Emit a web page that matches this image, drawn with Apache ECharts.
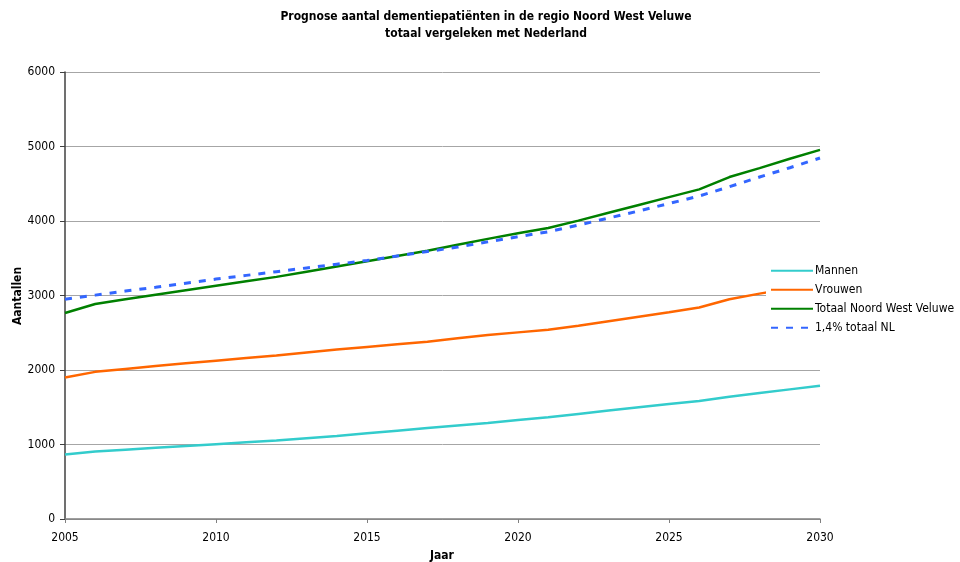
<!DOCTYPE html>
<html>
<head>
<meta charset="utf-8">
<script src="https://cdn.jsdelivr.net/npm/echarts@6/dist/echarts.min.js"></script>
<style>html,body{margin:0;padding:0;background:#fff}#c{width:960px;height:562px}</style>
</head>
<body>
<div id="c"></div>
<script>
const years = [2005,2006,2007,2008,2009,2010,2011,2012,2013,2014,2015,2016,2017,2018,2019,2020,2021,2022,2023,2024,2025,2026,2027,2028,2029,2030];
const mannen = [865,905,930,955,980,1005,1030,1055,1085,1115,1150,1185,1220,1255,1290,1330,1365,1410,1455,1500,1545,1585,1640,1690,1740,1790];
const vrouwen = [1900,1975,2015,2055,2090,2125,2160,2195,2235,2275,2310,2345,2380,2425,2470,2505,2540,2595,2655,2715,2775,2840,2950,3025,3095,3165];
const totaal = [2765,2885,2950,3010,3070,3130,3190,3250,3320,3390,3460,3530,3600,3680,3760,3835,3905,4005,4110,4215,4320,4425,4590,4710,4835,4955];
const nl = [2950,3005,3060,3110,3165,3220,3270,3320,3370,3420,3470,3530,3590,3650,3720,3790,3855,3945,4040,4135,4235,4335,4460,4590,4715,4845];
const seriesNames = ['Mannen','Vrouwen','Totaal Noord West Veluwe','1,4% totaal NL'];
const yTicks = [0,1000,2000,3000,4000,5000,6000];
const xName = 'Jaar';
const yName = 'Aantallen';

const FONT = "'DejaVu Sans Condensed', 'DejaVu Sans', sans-serif";
const pair = arr => years.map((y,i)=>[y,arr[i]]);

const chart = echarts.init(document.getElementById('c'));
chart.setOption({
  animation:false,
  backgroundColor:'#fff',
  textStyle:{fontFamily:FONT,color:'#000'},
  title:{
    text:'Prognose aantal dementiepatiënten in de regio Noord West Veluwe\ntotaal vergeleken met Nederland',
    left:481, top:3, textAlign:'center',
    textStyle:{fontFamily:FONT,fontSize:12,fontWeight:'bold',color:'#000',lineHeight:17}
  },
  graphic:[
    {type:'text',left:430,top:550,style:{text:xName,font:"bold 12px "+FONT,fill:'#000'}},
    {type:'text',x:18,y:296,rotation:Math.PI/2,style:{text:yName,font:"bold 12px "+FONT,fill:'#000',align:'center',verticalAlign:'middle'}}
  ],
  legend:{
    orient:'vertical', left:766, top:262,
    backgroundColor:'#fff', padding:[2,2,2,4],
    itemWidth:42, itemHeight:10, itemGap:5.5,
    itemStyle:{color:'transparent',borderWidth:0,opacity:0},
    textStyle:{fontFamily:FONT,fontSize:12,color:'#000',padding:[0,0,0,-3],height:13.5,lineHeight:13.5},
    data:seriesNames
  },
  grid:{left:65,right:140,top:72,bottom:43,containLabel:false,outerBoundsMode:'none'},
  xAxis:{
    type:'value', min:2005, max:2030, interval:5,
    axisLine:{show:true,lineStyle:{color:'#808080',width:1.5}},
    axisTick:{show:true,length:4,lineStyle:{color:'#808080'}},
    axisLabel:{fontFamily:FONT,fontSize:12,color:'#000',margin:13,formatter:v=>String(v)},
    splitLine:{show:false}
  },
  yAxis:{
    type:'value', min:0, max:6000, interval:1000,
    axisLine:{show:true,lineStyle:{color:'#404040',width:1.5}},
    axisTick:{show:true,length:5,lineStyle:{color:'#404040'}},
    axisLabel:{fontFamily:FONT,fontSize:12,color:'#000',margin:10,formatter:v=>yTicks.includes(v)?String(v):''},
    splitLine:{show:true,lineStyle:{color:'#a6a6a6',width:1}}
  },
  series:[
    {name:seriesNames[0],type:'line',data:pair(mannen),symbol:'none',lineStyle:{color:'#33CCCC',width:2.5},itemStyle:{color:'#33CCCC'},z:2},
    {name:seriesNames[1],type:'line',data:pair(vrouwen),symbol:'none',lineStyle:{color:'#FF6600',width:2.5},itemStyle:{color:'#FF6600'},z:2},
    {name:seriesNames[2],type:'line',data:pair(totaal),symbol:'none',lineStyle:{color:'#008000',width:2.5},itemStyle:{color:'#008000'},z:2},
    {name:seriesNames[3],type:'line',data:pair(nl),symbol:'none',lineStyle:{color:'#3366FF',width:3,type:[7,8]},itemStyle:{color:'#3366FF'},z:3}
  ]
});
</script>
</body>
</html>
